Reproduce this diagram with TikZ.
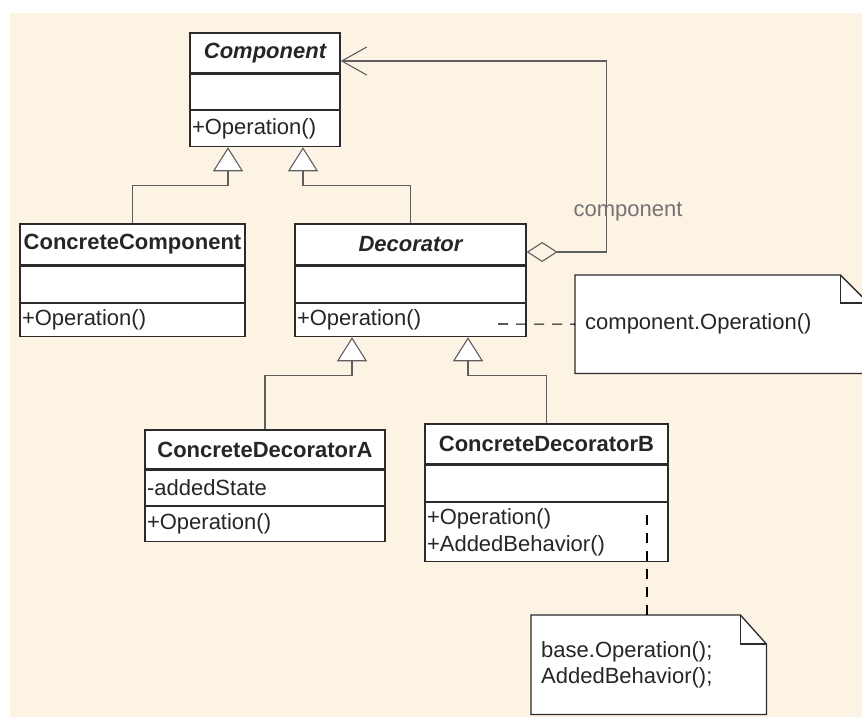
\documentclass[tikz,border=0pt]{standalone}
\usepackage{fontspec}
\setmainfont{Liberation Sans}
\usetikzlibrary{positioning,arrows.meta}
\definecolor{paper}{HTML}{FCF3E4}
\definecolor{boxline}{HTML}{2B2B2B}
\definecolor{linkline}{HTML}{5E5E5E}
\definecolor{inktext}{HTML}{262626}
\newcommand{\umlfont}{\fontsize{22}{27}\selectfont}
\tikzset{classhead/.style={draw=boxline,fill=white,line width=1.3pt,inner sep=0pt,
           font=\umlfont\bfseries,text=inktext,minimum height=#1},
         classpart/.style={draw=boxline,fill=white,line width=1.3pt,inner xsep=2pt,
           inner ysep=0pt,align=left,text=inktext,minimum height=#1},
         inherit/.style={draw=linkline,line width=1.1pt,
           -{Triangle[length=24pt,width=30pt,fill=white]}},
         assoc/.style={draw=linkline,line width=1.1pt,
           {Straight Barb[length=25pt,width=28pt]}-{Diamond[open,length=31pt,width=20pt]}},
         notelink/.style={draw=black,line width=1.1pt,dash pattern=on 10pt off 8pt},
         notebox/.style={fill=white,inner xsep=10pt,inner ysep=0pt,align=left,
           text=inktext,anchor=north west},
         noteline/.style={draw=boxline,line width=1.3pt},
         rolelabel/.style={text=black!55}}

\begin{document}
\begin{tikzpicture}[x=1pt,y=-1pt,font=\umlfont]
    \clip (0,0) rectangle (862,717);
    \fill[white] (0,0) rectangle (862,717);
    \fill[paper] (10,13) rectangle (862,717);

    \node[classhead=40pt,minimum width=150pt] (comp) at (265,53) {\itshape Component};
    \node[classpart=35pt,text width=146pt,below=0pt of comp] (compattr) {};
    \node[classpart=36pt,text width=146pt,below=0pt of compattr] (compops) {+Operation()};

    \node[classhead=41pt,minimum width=225pt] (ccomp) at (132.5,244.5) {ConcreteComponent};
    \node[classpart=36pt,text width=221pt,below=0pt of ccomp] (ccompattr) {};
    \node[classpart=33pt,text width=221pt,below=0pt of ccompattr] (ccompops) {+Operation()};

    \node[classhead=41pt,minimum width=231pt] (deco) at (410.5,244.5) {\itshape Decorator};
    \node[classpart=36pt,text width=227pt,below=0pt of deco] (decoattr) {};
    \node[classpart=33pt,text width=227pt,below=0pt of decoattr] (decoops) {+Operation()};

    \node[classhead=39pt,minimum width=240pt] (cda) at (265,449.5) {ConcreteDecoratorA};
    \node[classpart=35pt,text width=236pt,below=0pt of cda] (cdaattr) {-addedState};
    \node[classpart=35pt,text width=236pt,below=0pt of cdaattr] (cdaops) {+Operation()};

    \node[classhead=40pt,minimum width=243pt] (cdb) at (546.5,444) {ConcreteDecoratorB};
    \node[classpart=36pt,text width=239pt,below=0pt of cdb] (cdbattr) {};
    \node[classpart=59pt,text width=239pt,below=0pt of cdbattr] (cdbops) {+Operation()\\+AddedBehavior()};

    \draw[inherit] (ccomp.north) |- ([xshift=-37pt,yshift=-38pt]compops.south) -- ([xshift=-37pt]compops.south);
    \draw[inherit] (deco.north) |- ([xshift=38pt,yshift=-38pt]compops.south) -- ([xshift=38pt]compops.south);
    \draw[inherit] (cda.north) |- ([xshift=-58.5pt,yshift=-38pt]decoops.south) -- ([xshift=-58.5pt]decoops.south);
    \draw[inherit] (cdb.north) |- ([xshift=57.5pt,yshift=-38pt]decoops.south) -- ([xshift=57.5pt]decoops.south);

    \draw[assoc] ([yshift=-8pt]comp.east) -| ([xshift=80pt,yshift=-7.5pt]deco.east) -- ([yshift=-7.5pt]deco.east);
    \node[rolelabel] (rolecomp) at (628,212) {component};

    % notes
    \node[notebox,text width=273pt,minimum height=98pt] (note1) at (575,275) {component.Operation()};
    \fill[paper] ([xshift=-28pt]note1.north east) -- (note1.north east) -- ([yshift=-28pt]note1.north east) -- cycle;
    \draw[noteline] (note1.north west) -- ([xshift=-28pt]note1.north east) -- ([yshift=-28pt]note1.north east)
        -- (note1.south east) -- (note1.south west) -- cycle;
    \draw[noteline] ([xshift=-28pt]note1.north east) |- ([yshift=-28pt]note1.north east);

    \node[notebox,text width=215pt,minimum height=99pt,font=\fontsize{22}{26}\selectfont] (note2) at (531,615)
        {base.Operation();\\AddedBehavior();};
    \fill[paper] ([xshift=-26pt]note2.north east) -- (note2.north east) -- ([yshift=-29pt]note2.north east) -- cycle;
    \draw[noteline] (note2.north west) -- ([xshift=-26pt]note2.north east) -- ([yshift=-29pt]note2.north east)
        -- (note2.south east) -- (note2.south west) -- cycle;
    \draw[noteline] ([xshift=-26pt]note2.north east) |- ([yshift=-29pt]note2.north east);

    \coordinate (decolink) at (498,324);
    \coordinate (cdblink) at (647,515);
    \draw[notelink] (decolink) -- (note1.west);
    \draw[notelink] (cdblink) -- (cdblink |- note2.north);
\end{tikzpicture}
\end{document}
